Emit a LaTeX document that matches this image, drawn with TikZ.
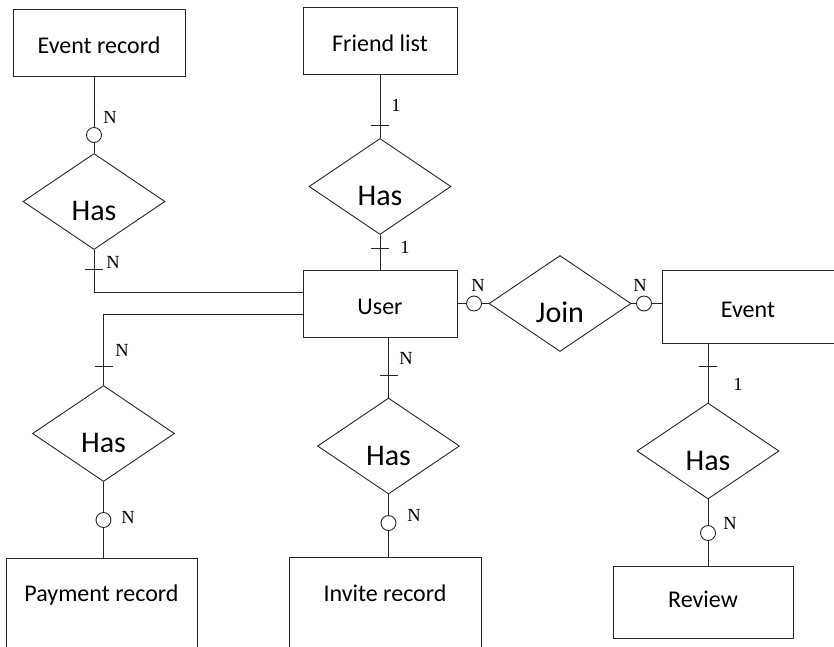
\documentclass[tikz,border=0pt]{standalone}
\usepackage{fontspec}
\setmainfont{Carlito}
\newfontfamily\cardfont{Liberation Serif}
\usetikzlibrary{shapes.geometric}
\begin{document}
\begin{tikzpicture}[x=1pt,y=-1pt,line width=0.9pt,
  entity/.style={draw=black!85, rectangle, inner sep=0pt, font=\fontsize{24}{27}\selectfont, text height=21.4pt, text depth=0pt},
  rel/.style={draw=black!85, diamond, inner sep=0pt, minimum width=142pt, minimum height=96pt, font=\fontsize{30}{33}\selectfont, text height=38.4pt, text depth=0pt},
  opt/.style={draw=black!85, circle, fill=white, inner sep=0pt, minimum size=15pt},
  card/.style={font=\cardfont\fontsize{18.5}{20}\selectfont, inner sep=0pt},
  link/.style={draw=black!85},
  tickmark/.style={draw=black!85}]
\useasboundingbox (0,0) rectangle (834,646);
% entities
\node[entity, minimum width=172pt, minimum height=67pt] (er) at (99,42.5) {Event record};
\node[entity, minimum width=154pt, minimum height=67pt] (fl) at (380,40.5) {Friend list};
\node[entity, minimum width=154pt, minimum height=67pt] (user) at (380,303.5) {User};
\node[entity, minimum width=172pt, minimum height=73pt] (event) at (748,306.5) {Event};
\node[entity, minimum width=191pt, minimum height=90pt, text height=0pt, text depth=2.6pt] (pay) at (101.5,603) {Payment record};
\node[entity, minimum width=192pt, minimum height=91pt, text height=0pt, text depth=2.6pt] (inv) at (385,602.5) {Invite record};
\node[entity, minimum width=180pt, minimum height=72pt, text height=11.4pt] (rev) at (703,602) {Review};
% relationships
\node[rel] (h1) at (94,201.5) {Has};
\node[rel] (h2) at (380,186.5) {Has};
\node[rel] (join) at (560,303.5) {Join};
\node[rel] (h4) at (103.5,433.5) {Has};
\node[rel] (h5) at (388.5,446) {Has};
\node[rel] (h6) at (708,451) {Has};
% optional circles
\node[opt] (o1) at (94,135) {};
\node[opt] (o2) at (474,303.5) {};
\node[opt] (o3) at (644,303.5) {};
\node[opt] (o4) at (103.5,520) {};
\node[opt] (o5) at (388.5,523) {};
\node[opt] (o6) at (708,533) {};
% tick positions
\coordinate (t1) at (94,269);
\coordinate (t2) at (380,125);
\coordinate (t3) at (380,248);
\coordinate (t4) at (103.5,366);
\coordinate (t5) at (388.5,375);
\coordinate (t6) at (708,366);
% connectors
\path[link] (er.south -| o1) -- (o1) -- (h1.north);
\path[link] (h1.south) |- ([yshift=11.5pt]user.west);
\path[link] (fl.south) -- (h2.north);
\path[link] (h2.south) -- (user.north);
\path[link] ([yshift=-10.5pt]user.west) -| (h4.north);
\path[link] (h4.south) -- (o4) -- (pay.north -| o4);
\path[link] (user.south -| h5.north) -- (h5.north);
\path[link] (h5.south) -- (o5) -- (inv.north -| o5);
\path[link] (user.east) -- (o2) -- (join.west);
\path[link] (join.east) -- (o3) -- (event.west |- o3);
\path[link] (event.south -| h6.north) -- (h6.north);
\path[link] (h6.south) -- (o6) -- (rev.north -| o6);
% ticks
\foreach \t in {t1,t2,t3,t4,t5,t6}
  \path[tickmark] ([xshift=-9pt]\t) -- ([xshift=9pt]\t);
% cardinalities
\node[card] (n1) at (110,117) {N};
\node[card] (n2) at (113,262) {N};
\node[card] (n3) at (396,105) {1};
\node[card] (n4) at (405,247) {1};
\node[card] (n5) at (478,285) {N};
\node[card] (n6) at (640,285) {N};
\node[card] (n7) at (738,384) {1};
\node[card] (n8) at (730,523) {N};
\node[card] (n9) at (122,350) {N};
\node[card] (n10) at (128,517) {N};
\node[card] (n11) at (406,358) {N};
\node[card] (n12) at (414,515) {N};
\end{tikzpicture}
\end{document}
